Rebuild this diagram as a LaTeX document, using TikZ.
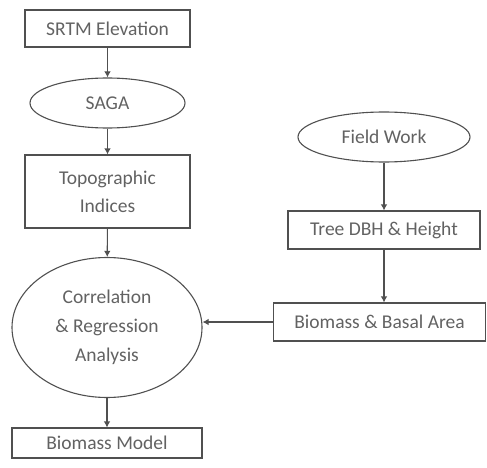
\documentclass[tikz,border=0pt]{standalone}
\usepackage{fontspec}
\setmainfont{Carlito}
\usetikzlibrary{shapes.geometric,arrows.meta}

\definecolor{lineg}{HTML}{505050}
\definecolor{textg}{HTML}{626262}

\tikzset{
    box/.style={draw=lineg, line width=1.1pt, rectangle, align=center, text=textg,
        font=\fontsize{19.5}{28}\selectfont, inner sep=0pt},
    oval/.style={draw=lineg, line width=1.1pt, ellipse, align=center, text=textg,
        font=\fontsize{19.5}{29}\selectfont, inner sep=0pt},
    arr/.style={draw=lineg, line width=1.1pt, -{Latex[length=6pt,width=6.5pt]}}
}

\begin{document}
\begin{tikzpicture}[x=1pt,y=-1pt]
    \useasboundingbox (0,0) rectangle (487,468);

    % left column
    \node[box, minimum width=165pt, minimum height=37pt] (srtm) at (107.5,28.5) {SRTM Elevation};
    \node[oval, minimum width=155pt, minimum height=50pt] (saga) at (107.5,103) {SAGA};
    \node[box, minimum width=165pt, minimum height=73pt] (topo) at (107.5,191.5) {Topographic\\Indices};
    \node[oval, minimum width=190pt, minimum height=140pt] (corr) at (107,327.5) {Correlation\\\& Regression\\Analysis};
    \node[box, minimum width=190pt, minimum height=30pt] (model) at (107,443) {Biomass Model};

    % right column
    \node[oval, minimum width=172pt, minimum height=50pt] (field) at (384,137) {Field Work};
    \node[box, minimum width=192pt, minimum height=38pt] (tree) at (384,230) {Tree DBH \& Height};
    \node[box, minimum width=212pt, minimum height=38pt] (basal) at (379.5,322) {Biomass \& Basal Area};

    \draw[arr] (srtm) -- (saga);
    \draw[arr] (saga) -- (topo);
    \draw[arr] (topo) -- (corr);
    \draw[arr] (corr) -- (model);
    \draw[arr] (field) -- (tree);
    \draw[arr] (tree.south) -- (tree.south |- basal.north);
    \draw[arr] (basal.west) -- (basal.west -| corr.east);
\end{tikzpicture}
\end{document}
